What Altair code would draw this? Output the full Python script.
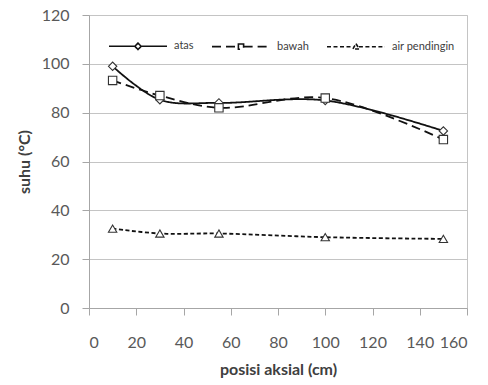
import altair as alt
import pandas as pd

# ---- data ----
positions = [10, 30, 55, 100, 150]
atas = [99, 85.3, 84, 85, 72.5]
bawah = [93.2, 87, 82, 86, 69]
air_pendingin = [32.5, 30.5, 30.5, 29, 28.3]
series_names = ["atas", "bawah", "air pendingin"]
x_ticks = [0, 20, 40, 60, 80, 100, 120, 140, 160]
y_ticks = [0, 20, 40, 60, 80, 100, 120]

rows = []
for name, vals in zip(series_names, [atas, bawah, air_pendingin]):
    for x, v in zip(positions, vals):
        rows.append({"posisi": x, "suhu": v, "seri": name})
df = pd.DataFrame(rows)

FONT = "Lato"
dash_range = [[1, 0], [9, 5], [4, 2.5]]
marker_shapes = ["diamond", "square", "triangle-up"]
legend_paths = [
    "M-1,0H-0.11M0.11,0H1M0,-0.11L0.11,0L0,0.11L-0.11,0Z",
    "M-1,0H-0.09M0.09,0H1M-0.09,-0.09H0.09V0.09H-0.09Z",
    "M-1,0H-0.1M0.1,0H1M0,-0.11L0.11,0.08L-0.11,0.08Z",
]

x_enc = alt.X(
    "posisi:Q",
    scale=alt.Scale(domain=[0, 160], nice=False),
    axis=alt.Axis(
        values=x_ticks, grid=False, tickSize=7, tickColor="#a6a6a6",
        domainColor="#a6a6a6", labelFont=FONT, labelFontSize=16,
        labelColor="#595959", labelPadding=19, title="posisi aksial (cm)",
        titleFont=FONT, titleFontSize=16, titleFontWeight="bold",
        titleColor="#404040", titlePadding=11,
    ),
)
y_enc = alt.Y(
    "suhu:Q",
    scale=alt.Scale(domain=[0, 120], nice=False),
    axis=alt.Axis(
        values=y_ticks, grid=True, gridColor="#c4c4c4", tickSize=7,
        tickColor="#a6a6a6", domainColor="#a6a6a6", labelFont=FONT,
        labelFontSize=16, labelColor="#595959", labelPadding=13,
        title="suhu (°C)", titleFont=FONT, titleFontSize=16,
        titleFontWeight="bold", titleColor="#404040", titlePadding=9,
    ),
)

base = alt.Chart(df)

lines = base.mark_line(interpolate="catmull-rom", color="#111111", strokeWidth=1.8).encode(
    x=x_enc, y=y_enc,
    detail="seri:N",
    strokeDash=alt.StrokeDash("seri:N", scale=alt.Scale(domain=series_names, range=dash_range), legend=None),
)

points = base.mark_point(filled=True, fill="white", stroke="#333333", strokeWidth=1.1, size=70, opacity=1).encode(
    x=x_enc, y=y_enc,
    shape=alt.Shape("seri:N", scale=alt.Scale(domain=series_names, range=marker_shapes), legend=None),
)

leg = alt.Legend(
    title=None, orient="none", direction="horizontal", legendX=19, legendY=1,
    symbolSize=3364, symbolStrokeWidth=1.6, symbolStrokeColor="#111111",
    labelFont=FONT, labelFontSize=11,
    labelColor="#404040", labelOffset=6, columnPadding=14, padding=0,
)
legend_layer = base.transform_filter("datum.posisi < 0").mark_point(
    filled=False, stroke="#111111", strokeWidth=1.6, opacity=1
).encode(
    x=x_enc, y=y_enc,
    shape=alt.Shape("seri:N", scale=alt.Scale(domain=series_names, range=legend_paths), legend=leg),
    strokeDash=alt.StrokeDash("seri:N", scale=alt.Scale(domain=series_names, range=dash_range), legend=leg),
)

chart = (
    alt.layer(lines, points, legend_layer)
    .resolve_scale(shape="independent", strokeDash="independent")
    .properties(
        width=378, height=293,
        autosize=alt.AutoSizeParams(type="none"),
        padding={"left": 89, "top": 15, "right": 21, "bottom": 77},
        background="white",
    )
    .configure_view(stroke="#c4c4c4")
)

chart.save("out.html", embed_options={"renderer": "svg", "actions": False})
